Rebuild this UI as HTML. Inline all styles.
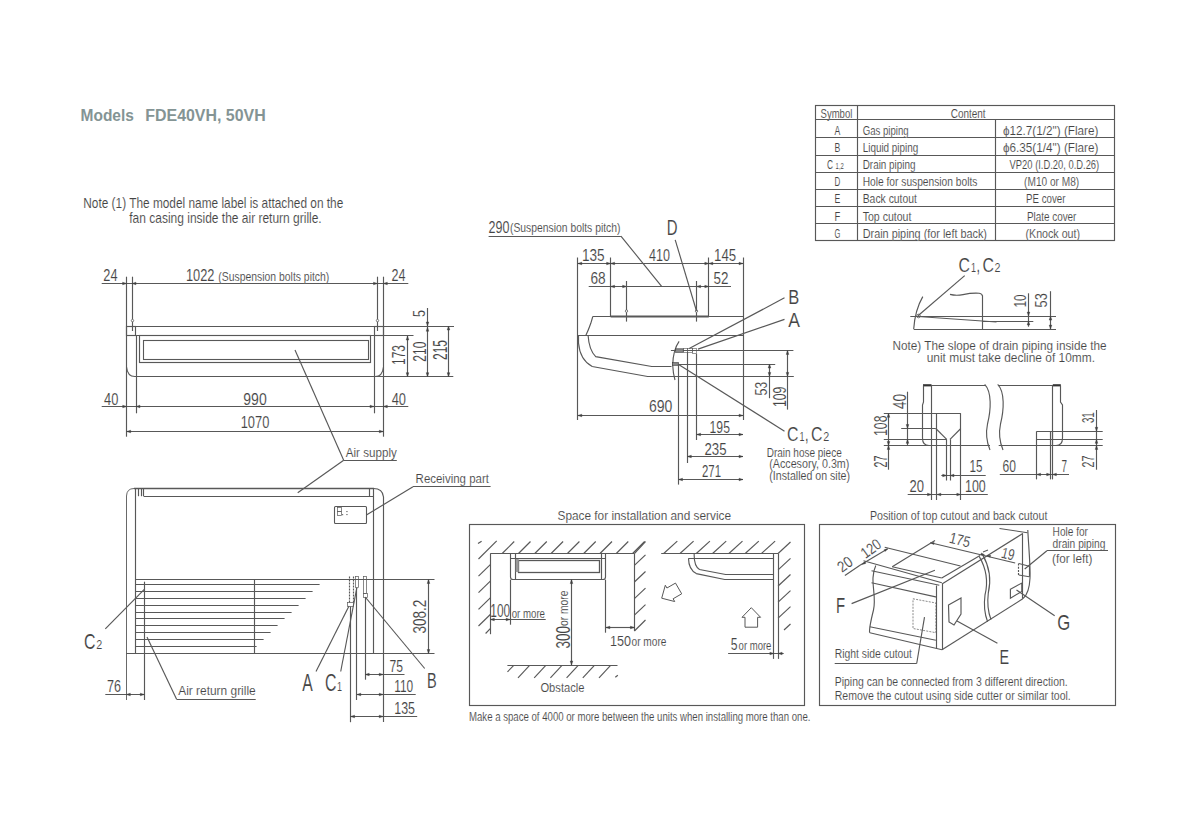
<!DOCTYPE html>
<html><head><meta charset="utf-8"><style>
html,body{margin:0;padding:0;background:#fff;}
svg{display:block;}
text{font-family:"Liberation Sans",sans-serif;}
</style></head><body>
<svg width="1200" height="826" viewBox="0 0 1200 826" stroke-linecap="butt">
<rect width="1200" height="826" fill="#fff"/>
<text x="80.5" y="120.7" font-size="17.4" fill="#849494" font-weight="bold" text-anchor="start" textLength="53.4" lengthAdjust="spacingAndGlyphs" >Models</text>
<text x="145.3" y="120.7" font-size="17.4" fill="#849494" font-weight="bold" text-anchor="start" textLength="120.4" lengthAdjust="spacingAndGlyphs" >FDE40VH, 50VH</text>
<text x="83.3" y="208.3" font-size="13.77" fill="#444444" stroke="#fff" stroke-width="0.12" font-weight="normal" text-anchor="start" textLength="260" lengthAdjust="spacingAndGlyphs" >Note (1) The model name label is attached on the</text>
<text x="129.3" y="222.7" font-size="13.77" fill="#444444" stroke="#fff" stroke-width="0.12" font-weight="normal" text-anchor="start" textLength="192.4" lengthAdjust="spacingAndGlyphs" >fan casing inside the air return grille.</text>
<line x1="101.7" y1="283.5" x2="408.3" y2="283.5" stroke="#585858" stroke-width="1.15"/>
<text x="103.3" y="280.8" font-size="15.65" fill="#444444" stroke="#fff" stroke-width="0.12" font-weight="normal" text-anchor="start" textLength="14.2" lengthAdjust="spacingAndGlyphs" >24</text>
<text x="186" y="280.8" font-size="15.65" fill="#444444" stroke="#fff" stroke-width="0.12" font-weight="normal" text-anchor="start" textLength="28.5" lengthAdjust="spacingAndGlyphs" >1022</text>
<text x="218.3" y="280.8" font-size="12.03" fill="#444444" stroke="#fff" stroke-width="0.12" font-weight="normal" text-anchor="start" textLength="111" lengthAdjust="spacingAndGlyphs" >(Suspension bolts pitch)</text>
<text x="391.5" y="280.8" font-size="15.65" fill="#444444" stroke="#fff" stroke-width="0.12" font-weight="normal" text-anchor="start" textLength="14" lengthAdjust="spacingAndGlyphs" >24</text>
<line x1="126.5" y1="276.7" x2="126.5" y2="436.7" stroke="#585858" stroke-width="1.15"/>
<line x1="383.5" y1="276.7" x2="383.5" y2="436.7" stroke="#585858" stroke-width="1.15"/>
<line x1="132.5" y1="276.7" x2="132.5" y2="319.3" stroke="#585858" stroke-width="1.15"/>
<circle cx="132.5" cy="320.6" r="1.2" fill="none" stroke="#585858" stroke-width="0.8"/>
<line x1="132.5" y1="321.8" x2="132.5" y2="331" stroke="#585858" stroke-width="1.15"/>
<line x1="377.5" y1="276.7" x2="377.5" y2="319.3" stroke="#585858" stroke-width="1.15"/>
<circle cx="377.5" cy="320.6" r="1.2" fill="none" stroke="#585858" stroke-width="0.8"/>
<line x1="377.5" y1="321.8" x2="377.5" y2="331" stroke="#585858" stroke-width="1.15"/>
<polygon points="126.6,283.5 122.6,284.8 122.6,282.2" fill="#404040" stroke="#404040" stroke-width="0.4"/>
<polygon points="132,283.5 136,282.2 136,284.8" fill="#404040" stroke="#404040" stroke-width="0.4"/>
<polygon points="377.5,283.5 373.5,284.8 373.5,282.2" fill="#404040" stroke="#404040" stroke-width="0.4"/>
<polygon points="383.3,283.5 387.3,282.2 387.3,284.8" fill="#404040" stroke="#404040" stroke-width="0.4"/>
<line x1="126.7" y1="326.5" x2="454" y2="326.5" stroke="#585858" stroke-width="1.15"/>
<line x1="126.7" y1="335.5" x2="413.5" y2="335.5" stroke="#585858" stroke-width="1.15"/>
<rect x="126.5" y="326.5" width="9" height="9" rx="0" fill="none" stroke="#585858" stroke-width="1.15"/>
<rect x="374.5" y="326.5" width="9" height="9" rx="0" fill="none" stroke="#585858" stroke-width="1.15"/>
<path d="M126.5,367 Q127.5,376.5 134.8,376.5 L453.3,376.5" fill="none" stroke="#585858" stroke-width="1.15" />
<path d="M383.5,367 Q382.5,376.5 375.2,376.5" fill="none" stroke="#585858" stroke-width="1.15" />
<line x1="136.5" y1="335" x2="136.5" y2="413.3" stroke="#585858" stroke-width="1.15"/>
<line x1="374.5" y1="335" x2="374.5" y2="413.3" stroke="#585858" stroke-width="1.15"/>
<rect x="139.5" y="335.5" width="231" height="27" rx="0" fill="none" stroke="#585858" stroke-width="1.15"/>
<rect x="143.5" y="340.5" width="225" height="19" rx="0" fill="none" stroke="#585858" stroke-width="1.1"/>
<line x1="427.5" y1="308" x2="427.5" y2="376.7" stroke="#585858" stroke-width="1.15"/>
<polygon points="427.5,326 426.2,322 428.8,322" fill="#404040" stroke="#404040" stroke-width="0.4"/>
<polygon points="427.5,327.2 428.8,331.2 426.2,331.2" fill="#404040" stroke="#404040" stroke-width="0.4"/>
<line x1="448.5" y1="326" x2="448.5" y2="376.7" stroke="#585858" stroke-width="1.15"/>
<polygon points="448.5,326 449.8,330 447.2,330" fill="#404040" stroke="#404040" stroke-width="0.4"/>
<polygon points="448.5,376.7 447.2,372.7 449.8,372.7" fill="#404040" stroke="#404040" stroke-width="0.4"/>
<line x1="407.5" y1="335.5" x2="407.5" y2="376.7" stroke="#585858" stroke-width="1.15"/>
<polygon points="407.5,336 408.8,340 406.2,340" fill="#404040" stroke="#404040" stroke-width="0.4"/>
<polygon points="407.5,376.7 406.2,372.7 408.8,372.7" fill="#404040" stroke="#404040" stroke-width="0.4"/>
<polygon points="427.5,376.7 426.2,372.7 428.8,372.7" fill="#404040" stroke="#404040" stroke-width="0.4"/>
<text x="0" y="0" transform="translate(425,317) rotate(-90)" font-size="16.96" fill="#444444" stroke="#fff" stroke-width="0.12" font-weight="normal" text-anchor="start" textLength="7" lengthAdjust="spacingAndGlyphs" >5</text>
<text x="0" y="0" transform="translate(405,365) rotate(-90)" font-size="19.28" fill="#444444" stroke="#fff" stroke-width="0.12" font-weight="normal" text-anchor="start" textLength="20" lengthAdjust="spacingAndGlyphs" >173</text>
<text x="0" y="0" transform="translate(425.8,361.7) rotate(-90)" font-size="18.55" fill="#444444" stroke="#fff" stroke-width="0.12" font-weight="normal" text-anchor="start" textLength="20" lengthAdjust="spacingAndGlyphs" >210</text>
<text x="0" y="0" transform="translate(446.7,360) rotate(-90)" font-size="19.42" fill="#444444" stroke="#fff" stroke-width="0.12" font-weight="normal" text-anchor="start" textLength="20" lengthAdjust="spacingAndGlyphs" >215</text>
<line x1="101.7" y1="406.5" x2="408.3" y2="406.5" stroke="#585858" stroke-width="1.15"/>
<polygon points="126.7,406.5 122.7,407.8 122.7,405.2" fill="#404040" stroke="#404040" stroke-width="0.4"/>
<polygon points="136,406.5 140,405.2 140,407.8" fill="#404040" stroke="#404040" stroke-width="0.4"/>
<polygon points="374,406.5 370,407.8 370,405.2" fill="#404040" stroke="#404040" stroke-width="0.4"/>
<polygon points="383.3,406.5 387.3,405.2 387.3,407.8" fill="#404040" stroke="#404040" stroke-width="0.4"/>
<text x="104" y="405" font-size="15.94" fill="#444444" stroke="#fff" stroke-width="0.12" font-weight="normal" text-anchor="start" textLength="14.3" lengthAdjust="spacingAndGlyphs" >40</text>
<text x="243.3" y="405" font-size="15.94" fill="#444444" stroke="#fff" stroke-width="0.12" font-weight="normal" text-anchor="start" textLength="23.4" lengthAdjust="spacingAndGlyphs" >990</text>
<text x="391.7" y="405" font-size="15.94" fill="#444444" stroke="#fff" stroke-width="0.12" font-weight="normal" text-anchor="start" textLength="14.3" lengthAdjust="spacingAndGlyphs" >40</text>
<line x1="126.7" y1="431.5" x2="383.3" y2="431.5" stroke="#585858" stroke-width="1.15"/>
<polygon points="126.7,431.5 130.7,430.2 130.7,432.8" fill="#404040" stroke="#404040" stroke-width="0.4"/>
<polygon points="383.3,431.5 379.3,432.8 379.3,430.2" fill="#404040" stroke="#404040" stroke-width="0.4"/>
<text x="240.7" y="428.3" font-size="15.94" fill="#444444" stroke="#fff" stroke-width="0.12" font-weight="normal" text-anchor="start" textLength="28.6" lengthAdjust="spacingAndGlyphs" >1070</text>
<line x1="295" y1="350" x2="343.7" y2="460.3" stroke="#585858" stroke-width="1.15"/>
<line x1="343.7" y1="460.5" x2="396.8" y2="460.5" stroke="#585858" stroke-width="1.15"/>
<line x1="343.7" y1="460.3" x2="297.7" y2="492.8" stroke="#585858" stroke-width="1.15"/>
<text x="345.8" y="457" font-size="12.32" fill="#444444" stroke="#fff" stroke-width="0.12" font-weight="normal" text-anchor="start" textLength="51" lengthAdjust="spacingAndGlyphs" >Air supply</text>
<path d="M126.5,700 L126.5,496 Q126.8,488.5 134,488.5 L374,488.5" fill="none" stroke="#585858" stroke-width="0.9" />
<line x1="134" y1="488.5" x2="374" y2="488.5" stroke="#585858" stroke-width="1.6"/>
<line x1="135.5" y1="488.3" x2="135.5" y2="653.5" stroke="#585858" stroke-width="1.15"/>
<line x1="143.7" y1="496.5" x2="373" y2="496.5" stroke="#585858" stroke-width="1.2"/>
<line x1="138.5" y1="488.3" x2="138.5" y2="496.2" stroke="#585858" stroke-width="1.15"/>
<line x1="141.5" y1="488.3" x2="141.5" y2="496.2" stroke="#585858" stroke-width="1.15"/>
<line x1="143.5" y1="488.3" x2="143.5" y2="496.2" stroke="#585858" stroke-width="1.15"/>
<line x1="369.5" y1="488.3" x2="369.5" y2="496.2" stroke="#585858" stroke-width="1.15"/>
<path d="M373.5,488.5 Q382.7,488.5 383.5,497 L383.5,722" fill="none" stroke="#585858" stroke-width="1.15" />
<line x1="373.5" y1="488.3" x2="373.5" y2="653.5" stroke="#585858" stroke-width="1.15"/>
<rect x="334.5" y="506.5" width="32" height="17" rx="1" fill="none" stroke="#585858" stroke-width="1.1"/>
<rect x="337.5" y="507.5" width="4" height="4" rx="0" fill="none" stroke="#585858" stroke-width="0.7"/>
<rect x="337.5" y="511.5" width="4" height="4" rx="0" fill="none" stroke="#585858" stroke-width="0.7"/>
<rect x="342" y="514.2" width="1.2" height="1" fill="#555"/><rect x="346.4" y="511" width="1.1" height="1.1" fill="#555"/><rect x="346.4" y="514" width="1.1" height="1.1" fill="#555"/>
<line x1="413" y1="486.5" x2="490.6" y2="486.5" stroke="#585858" stroke-width="1.15"/>
<line x1="413" y1="486.8" x2="366.4" y2="515" stroke="#585858" stroke-width="1.15"/>
<text x="415.6" y="483" font-size="12.32" fill="#444444" stroke="#fff" stroke-width="0.12" font-weight="normal" text-anchor="start" textLength="73.3" lengthAdjust="spacingAndGlyphs" >Receiving part</text>
<line x1="136" y1="579.5" x2="434.5" y2="579.5" stroke="#585858" stroke-width="1.15"/>
<line x1="126.3" y1="653.5" x2="434.5" y2="653.5" stroke="#585858" stroke-width="1.15"/>
<line x1="136" y1="584.5" x2="319.6" y2="584.5" stroke="#585858" stroke-width="1.15"/>
<line x1="136" y1="591.5" x2="312.6" y2="591.5" stroke="#585858" stroke-width="1.15"/>
<line x1="136" y1="598.5" x2="305.6" y2="598.5" stroke="#585858" stroke-width="1.15"/>
<line x1="136" y1="605.5" x2="298.6" y2="605.5" stroke="#585858" stroke-width="1.15"/>
<line x1="136" y1="612.5" x2="291.6" y2="612.5" stroke="#585858" stroke-width="1.15"/>
<line x1="136" y1="618.5" x2="284.6" y2="618.5" stroke="#585858" stroke-width="1.15"/>
<line x1="136" y1="625.5" x2="277.6" y2="625.5" stroke="#585858" stroke-width="1.15"/>
<line x1="136" y1="632.5" x2="270.6" y2="632.5" stroke="#585858" stroke-width="1.15"/>
<line x1="136" y1="639.5" x2="263.6" y2="639.5" stroke="#585858" stroke-width="1.15"/>
<line x1="136" y1="646.5" x2="256.6" y2="646.5" stroke="#585858" stroke-width="1.15"/>
<line x1="254.5" y1="579.5" x2="254.5" y2="653.5" stroke="#585858" stroke-width="1.15"/>
<line x1="144.5" y1="581.7" x2="144.5" y2="700" stroke="#585858" stroke-width="1.15"/>
<line x1="105.3" y1="628.9" x2="144.3" y2="589.3" stroke="#585858" stroke-width="1.15"/>
<text x="84" y="648.8" font-size="22" fill="#444444" stroke="#fff" stroke-width="0.12" font-weight="normal" text-anchor="start" textLength="11.5" lengthAdjust="spacingAndGlyphs" >C</text>
<text x="96.2" y="648.8" font-size="12.5" fill="#444444" stroke="#fff" stroke-width="0.12" font-weight="normal" text-anchor="start" textLength="6" lengthAdjust="spacingAndGlyphs" >2</text>
<line x1="147" y1="637" x2="176.6" y2="699.2" stroke="#585858" stroke-width="1.15"/>
<line x1="176.6" y1="699.5" x2="255.7" y2="699.5" stroke="#585858" stroke-width="1.15"/>
<text x="178.2" y="695.4" font-size="12.9" fill="#444444" stroke="#fff" stroke-width="0.12" font-weight="normal" text-anchor="start" textLength="77.5" lengthAdjust="spacingAndGlyphs" >Air return grille</text>
<line x1="105.3" y1="694.5" x2="144.3" y2="694.5" stroke="#585858" stroke-width="1.15"/>
<polygon points="126.3,694.5 130.3,693.2 130.3,695.8" fill="#404040" stroke="#404040" stroke-width="0.4"/>
<polygon points="144.3,694.5 140.3,695.8 140.3,693.2" fill="#404040" stroke="#404040" stroke-width="0.4"/>
<text x="107" y="692.2" font-size="16.23" fill="#444444" stroke="#fff" stroke-width="0.12" font-weight="normal" text-anchor="start" textLength="14" lengthAdjust="spacingAndGlyphs" >76</text>
<line x1="349.5" y1="576.5" x2="349.5" y2="602.7" stroke="#585858" stroke-width="1.15" stroke-dasharray="2,1"/>
<line x1="353.5" y1="576.5" x2="353.5" y2="602.7" stroke="#585858" stroke-width="1.15" stroke-dasharray="2,1"/>
<rect x="347.5" y="602.5" width="6" height="4" rx="0" fill="none" stroke="#585858" stroke-width="0.7"/>
<rect x="355.5" y="576.5" width="3" height="11" rx="0" fill="none" stroke="#585858" stroke-width="0.7"/>
<rect x="363.5" y="576.5" width="3" height="17" rx="0" fill="none" stroke="#585858" stroke-width="0.7"/>
<rect x="363.5" y="593.5" width="4" height="4" rx="0" fill="none" stroke="#585858" stroke-width="0.7"/>
<line x1="350.5" y1="606.5" x2="350.5" y2="722.2" stroke="#585858" stroke-width="1.15"/>
<line x1="356.5" y1="587.7" x2="356.5" y2="700" stroke="#585858" stroke-width="1.15"/>
<line x1="365.5" y1="597.3" x2="365.5" y2="679.7" stroke="#585858" stroke-width="1.15"/>
<line x1="428.5" y1="579.5" x2="428.5" y2="653.5" stroke="#585858" stroke-width="1.15"/>
<polygon points="428.5,579.5 429.8,583.5 427.2,583.5" fill="#404040" stroke="#404040" stroke-width="0.4"/>
<polygon points="428.5,653.5 427.2,649.5 429.8,649.5" fill="#404040" stroke="#404040" stroke-width="0.4"/>
<text x="0" y="0" transform="translate(426.2,633.5) rotate(-90)" font-size="18.41" fill="#444444" stroke="#fff" stroke-width="0.12" font-weight="normal" text-anchor="start" textLength="33.8" lengthAdjust="spacingAndGlyphs" >308.2</text>
<line x1="316" y1="671.5" x2="349" y2="606" stroke="#585858" stroke-width="1.15"/>
<line x1="340.7" y1="671.5" x2="356.8" y2="588" stroke="#585858" stroke-width="1.15"/>
<line x1="424.7" y1="668.5" x2="365.2" y2="597" stroke="#585858" stroke-width="1.15"/>
<text x="302.2" y="691.3" font-size="23.33" fill="#444444" stroke="#fff" stroke-width="0.12" font-weight="normal" text-anchor="start" textLength="10.5" lengthAdjust="spacingAndGlyphs" >A</text>
<text x="325" y="691.3" font-size="23" fill="#444444" stroke="#fff" stroke-width="0.12" font-weight="normal" text-anchor="start" textLength="11.5" lengthAdjust="spacingAndGlyphs" >C</text>
<text x="337" y="691.3" font-size="12.5" fill="#444444" stroke="#fff" stroke-width="0.12" font-weight="normal" text-anchor="start" textLength="5" lengthAdjust="spacingAndGlyphs" >1</text>
<text x="427" y="687.7" font-size="21.74" fill="#444444" stroke="#fff" stroke-width="0.12" font-weight="normal" text-anchor="start" textLength="9.7" lengthAdjust="spacingAndGlyphs" >B</text>
<line x1="365.2" y1="674.5" x2="404.5" y2="674.5" stroke="#585858" stroke-width="1.15"/>
<polygon points="365.2,674.5 369.2,673.2 369.2,675.8" fill="#404040" stroke="#404040" stroke-width="0.4"/>
<polygon points="383.2,674.5 379.2,675.8 379.2,673.2" fill="#404040" stroke="#404040" stroke-width="0.4"/>
<text x="389.5" y="671.5" font-size="16.67" fill="#444444" stroke="#fff" stroke-width="0.12" font-weight="normal" text-anchor="start" textLength="13.5" lengthAdjust="spacingAndGlyphs" >75</text>
<line x1="356.8" y1="694.5" x2="415.7" y2="694.5" stroke="#585858" stroke-width="1.15"/>
<polygon points="356.8,694.5 360.8,693.2 360.8,695.8" fill="#404040" stroke="#404040" stroke-width="0.4"/>
<polygon points="383.2,694.5 379.2,695.8 379.2,693.2" fill="#404040" stroke="#404040" stroke-width="0.4"/>
<text x="394.3" y="691.7" font-size="16.23" fill="#444444" stroke="#fff" stroke-width="0.12" font-weight="normal" text-anchor="start" textLength="18.9" lengthAdjust="spacingAndGlyphs" >110</text>
<line x1="350.6" y1="716.5" x2="417.2" y2="716.5" stroke="#585858" stroke-width="1.15"/>
<polygon points="350.6,716.5 354.6,715.2 354.6,717.8" fill="#404040" stroke="#404040" stroke-width="0.4"/>
<polygon points="383.2,716.5 379.2,717.8 379.2,715.2" fill="#404040" stroke="#404040" stroke-width="0.4"/>
<text x="394.3" y="713.5" font-size="17.39" fill="#444444" stroke="#fff" stroke-width="0.12" font-weight="normal" text-anchor="start" textLength="20.7" lengthAdjust="spacingAndGlyphs" >135</text>
<line x1="488.6" y1="236.5" x2="620.9" y2="236.5" stroke="#585858" stroke-width="1.15"/>
<line x1="620.9" y1="236.1" x2="661.6" y2="286.3" stroke="#585858" stroke-width="1.15"/>
<text x="488.6" y="232.7" font-size="17.39" fill="#444444" stroke="#fff" stroke-width="0.12" font-weight="normal" text-anchor="start" textLength="20.9" lengthAdjust="spacingAndGlyphs" >290</text>
<text x="510" y="231.6" font-size="12.17" fill="#444444" stroke="#fff" stroke-width="0.12" font-weight="normal" text-anchor="start" textLength="110.5" lengthAdjust="spacingAndGlyphs" >(Suspension bolts pitch)</text>
<text x="666.7" y="235.4" font-size="22.32" fill="#444444" stroke="#fff" stroke-width="0.12" font-weight="normal" text-anchor="start" textLength="10.8" lengthAdjust="spacingAndGlyphs" >D</text>
<line x1="675.2" y1="239.8" x2="696.5" y2="311" stroke="#585858" stroke-width="1.15"/>
<line x1="577.8" y1="263.5" x2="743" y2="263.5" stroke="#585858" stroke-width="1.15"/>
<line x1="577.5" y1="257.5" x2="577.5" y2="420" stroke="#585858" stroke-width="1.15"/>
<line x1="743.5" y1="257.5" x2="743.5" y2="420" stroke="#585858" stroke-width="1.15"/>
<line x1="610.5" y1="257.5" x2="610.5" y2="316.1" stroke="#585858" stroke-width="1.15"/>
<line x1="708.5" y1="257.5" x2="708.5" y2="316.1" stroke="#585858" stroke-width="1.15"/>
<polygon points="577.8,263.5 581.8,262.2 581.8,264.8" fill="#404040" stroke="#404040" stroke-width="0.4"/>
<polygon points="610.6,263.5 606.6,264.8 606.6,262.2" fill="#404040" stroke="#404040" stroke-width="0.4"/>
<polygon points="610.6,263.5 614.6,262.2 614.6,264.8" fill="#404040" stroke="#404040" stroke-width="0.4"/>
<polygon points="708.8,263.5 704.8,264.8 704.8,262.2" fill="#404040" stroke="#404040" stroke-width="0.4"/>
<polygon points="708.8,263.5 712.8,262.2 712.8,264.8" fill="#404040" stroke="#404040" stroke-width="0.4"/>
<polygon points="743,263.5 739,264.8 739,262.2" fill="#404040" stroke="#404040" stroke-width="0.4"/>
<text x="581.9" y="261" font-size="15.94" fill="#444444" stroke="#fff" stroke-width="0.12" font-weight="normal" text-anchor="start" textLength="22.7" lengthAdjust="spacingAndGlyphs" >135</text>
<text x="649" y="261" font-size="15.94" fill="#444444" stroke="#fff" stroke-width="0.12" font-weight="normal" text-anchor="start" textLength="21" lengthAdjust="spacingAndGlyphs" >410</text>
<text x="714.1" y="261" font-size="15.94" fill="#444444" stroke="#fff" stroke-width="0.12" font-weight="normal" text-anchor="start" textLength="22.1" lengthAdjust="spacingAndGlyphs" >145</text>
<line x1="588.7" y1="286.5" x2="731" y2="286.5" stroke="#585858" stroke-width="1.15"/>
<polygon points="610.6,286.5 614.6,285.2 614.6,287.8" fill="#404040" stroke="#404040" stroke-width="0.4"/>
<polygon points="626.6,286.5 622.6,287.8 622.6,285.2" fill="#404040" stroke="#404040" stroke-width="0.4"/>
<polygon points="696.6,286.5 700.6,285.2 700.6,287.8" fill="#404040" stroke="#404040" stroke-width="0.4"/>
<polygon points="708.8,286.5 704.8,287.8 704.8,285.2" fill="#404040" stroke="#404040" stroke-width="0.4"/>
<text x="590.4" y="284" font-size="15.94" fill="#444444" stroke="#fff" stroke-width="0.12" font-weight="normal" text-anchor="start" textLength="15.2" lengthAdjust="spacingAndGlyphs" >68</text>
<text x="713.5" y="284" font-size="15.94" fill="#444444" stroke="#fff" stroke-width="0.12" font-weight="normal" text-anchor="start" textLength="14.9" lengthAdjust="spacingAndGlyphs" >52</text>
<line x1="626.5" y1="281" x2="626.5" y2="310" stroke="#585858" stroke-width="1.15"/>
<circle cx="626.5" cy="311.1" r="1.2" fill="none" stroke="#585858" stroke-width="0.8"/>
<line x1="626.5" y1="312.3" x2="626.5" y2="321.6" stroke="#585858" stroke-width="1.15"/>
<line x1="696.5" y1="281" x2="696.5" y2="310" stroke="#585858" stroke-width="1.15"/>
<circle cx="696.5" cy="311.1" r="1.2" fill="none" stroke="#585858" stroke-width="0.8"/>
<line x1="696.5" y1="312.3" x2="696.5" y2="321.6" stroke="#585858" stroke-width="1.15"/>
<line x1="610.6" y1="316.5" x2="708.8" y2="316.5" stroke="#585858" stroke-width="1.8"/>
<line x1="592.8" y1="316.5" x2="743" y2="316.5" stroke="#585858" stroke-width="1.15"/>
<path d="M592.8,316.5 L590.8,323.3 Q588.5,330 585.8,335.5" fill="none" stroke="#585858" stroke-width="1.15" />
<line x1="577.9" y1="335.5" x2="743" y2="335.5" stroke="#585858" stroke-width="1.15"/>
<path d="M578.5,335.5 L578.5,343 Q580,360 592.2,366.5 L647.6,376.5 L793.8,376.5" fill="none" stroke="#585858" stroke-width="1.15" />
<path d="M588.1,335.5 Q589,350 595.7,356.6 L651.7,366.5 L671.5,366.5" fill="none" stroke="#585858" stroke-width="1.15" />
<path d="M679.1,341.4 Q673,350 672.7,365.3 Q673,373 675,380" fill="none" stroke="#585858" stroke-width="1.15" />
<line x1="670.9" y1="350.5" x2="793.4" y2="350.5" stroke="#585858" stroke-width="1.15"/>
<rect x="675.6" y="348.8" width="7.6" height="3.5" fill="#888" stroke="#3a3a3a" stroke-width="0.6"/>
<rect x="683.5" y="348.5" width="4" height="4" rx="0" fill="none" stroke="#585858" stroke-width="0.6"/>
<rect x="687.5" y="348.5" width="5" height="4" rx="0" fill="none" stroke="#585858" stroke-width="0.6"/>
<rect x="692.5" y="348.5" width="4" height="5" rx="0" fill="none" stroke="#585858" stroke-width="0.6"/>
<rect x="672.4" y="362.6" width="6.1" height="2.7" fill="#888" stroke="#3a3a3a" stroke-width="0.6"/>
<line x1="678.5" y1="364.5" x2="775.2" y2="364.5" stroke="#585858" stroke-width="1.15"/>
<line x1="678.5" y1="365" x2="678.5" y2="484.6" stroke="#585858" stroke-width="1.15"/>
<line x1="687.5" y1="352" x2="687.5" y2="463" stroke="#585858" stroke-width="1.15"/>
<line x1="696.5" y1="353.5" x2="696.5" y2="440" stroke="#585858" stroke-width="1.15"/>
<line x1="784.5" y1="297.8" x2="689.2" y2="348.6" stroke="#585858" stroke-width="1.15"/>
<line x1="784.5" y1="319.4" x2="698" y2="349.1" stroke="#585858" stroke-width="1.15"/>
<line x1="677.8" y1="363.9" x2="784.5" y2="431.2" stroke="#585858" stroke-width="1.15"/>
<text x="788.3" y="304.1" font-size="20.87" fill="#444444" stroke="#fff" stroke-width="0.12" font-weight="normal" text-anchor="start" textLength="11" lengthAdjust="spacingAndGlyphs" >B</text>
<text x="788.3" y="327" font-size="20.29" fill="#444444" stroke="#fff" stroke-width="0.12" font-weight="normal" text-anchor="start" textLength="11.7" lengthAdjust="spacingAndGlyphs" >A</text>
<text x="787" y="441.4" font-size="21" fill="#444444" stroke="#fff" stroke-width="0.12" font-weight="normal" text-anchor="start" textLength="11.5" lengthAdjust="spacingAndGlyphs" >C</text>
<text x="799.5" y="441.4" font-size="12" fill="#444444" stroke="#fff" stroke-width="0.12" font-weight="normal" text-anchor="start" textLength="5" lengthAdjust="spacingAndGlyphs" >1</text>
<text x="805" y="441.4" font-size="21" fill="#444444" stroke="#fff" stroke-width="0.12" font-weight="normal" text-anchor="start" textLength="3.5" lengthAdjust="spacingAndGlyphs" >,</text>
<text x="811" y="441.4" font-size="21" fill="#444444" stroke="#fff" stroke-width="0.12" font-weight="normal" text-anchor="start" textLength="11.5" lengthAdjust="spacingAndGlyphs" >C</text>
<text x="823.3" y="441.4" font-size="12" fill="#444444" stroke="#fff" stroke-width="0.12" font-weight="normal" text-anchor="start" textLength="6" lengthAdjust="spacingAndGlyphs" >2</text>
<text x="766.7" y="456.5" font-size="13.04" fill="#444444" stroke="#fff" stroke-width="0.12" font-weight="normal" text-anchor="start" textLength="75" lengthAdjust="spacingAndGlyphs" >Drain hose piece</text>
<text x="769.3" y="468" font-size="13.04" fill="#444444" stroke="#fff" stroke-width="0.12" font-weight="normal" text-anchor="start" textLength="80" lengthAdjust="spacingAndGlyphs" >(Accesory, 0.3m)</text>
<text x="769.3" y="479.5" font-size="13.04" fill="#444444" stroke="#fff" stroke-width="0.12" font-weight="normal" text-anchor="start" textLength="80.7" lengthAdjust="spacingAndGlyphs" >(Installed on site)</text>
<line x1="769.5" y1="364" x2="769.5" y2="398.2" stroke="#585858" stroke-width="1.15"/>
<polygon points="769.5,364 770.8,368 768.2,368" fill="#404040" stroke="#404040" stroke-width="0.4"/>
<polygon points="769.5,376.4 768.2,372.4 770.8,372.4" fill="#404040" stroke="#404040" stroke-width="0.4"/>
<line x1="787.5" y1="350.4" x2="787.5" y2="409.6" stroke="#585858" stroke-width="1.15"/>
<polygon points="787.5,350.4 788.8,354.4 786.2,354.4" fill="#404040" stroke="#404040" stroke-width="0.4"/>
<polygon points="787.5,376.4 786.2,372.4 788.8,372.4" fill="#404040" stroke="#404040" stroke-width="0.4"/>
<text x="0" y="0" transform="translate(766.7,395.6) rotate(-90)" font-size="16.52" fill="#444444" stroke="#fff" stroke-width="0.12" font-weight="normal" text-anchor="start" textLength="13.9" lengthAdjust="spacingAndGlyphs" >53</text>
<text x="0" y="0" transform="translate(785.8,407) rotate(-90)" font-size="18.55" fill="#444444" stroke="#fff" stroke-width="0.12" font-weight="normal" text-anchor="start" textLength="20.3" lengthAdjust="spacingAndGlyphs" >109</text>
<line x1="577.8" y1="415.5" x2="743" y2="415.5" stroke="#585858" stroke-width="1.15"/>
<polygon points="577.8,415.5 581.8,414.2 581.8,416.8" fill="#404040" stroke="#404040" stroke-width="0.4"/>
<polygon points="743,415.5 739,416.8 739,414.2" fill="#404040" stroke="#404040" stroke-width="0.4"/>
<text x="649" y="411.8" font-size="16.38" fill="#444444" stroke="#fff" stroke-width="0.12" font-weight="normal" text-anchor="start" textLength="23.4" lengthAdjust="spacingAndGlyphs" >690</text>
<line x1="696.6" y1="434.5" x2="743" y2="434.5" stroke="#585858" stroke-width="1.15"/>
<polygon points="696.6,434.5 700.6,433.2 700.6,435.8" fill="#404040" stroke="#404040" stroke-width="0.4"/>
<polygon points="743,434.5 739,435.8 739,433.2" fill="#404040" stroke="#404040" stroke-width="0.4"/>
<text x="709.6" y="432.5" font-size="16.67" fill="#444444" stroke="#fff" stroke-width="0.12" font-weight="normal" text-anchor="start" textLength="20.3" lengthAdjust="spacingAndGlyphs" >195</text>
<line x1="687.3" y1="456.5" x2="743" y2="456.5" stroke="#585858" stroke-width="1.15"/>
<polygon points="687.3,456.5 691.3,455.2 691.3,457.8" fill="#404040" stroke="#404040" stroke-width="0.4"/>
<polygon points="743,456.5 739,457.8 739,455.2" fill="#404040" stroke="#404040" stroke-width="0.4"/>
<text x="704.5" y="455" font-size="16.67" fill="#444444" stroke="#fff" stroke-width="0.12" font-weight="normal" text-anchor="start" textLength="22.1" lengthAdjust="spacingAndGlyphs" >235</text>
<line x1="678.5" y1="479.5" x2="743" y2="479.5" stroke="#585858" stroke-width="1.15"/>
<polygon points="678.5,479.5 682.5,478.2 682.5,480.8" fill="#404040" stroke="#404040" stroke-width="0.4"/>
<polygon points="743,479.5 739,480.8 739,478.2" fill="#404040" stroke="#404040" stroke-width="0.4"/>
<text x="702" y="477" font-size="16.67" fill="#444444" stroke="#fff" stroke-width="0.12" font-weight="normal" text-anchor="start" textLength="19" lengthAdjust="spacingAndGlyphs" >271</text>
<rect x="815.5" y="105.5" width="299" height="135" rx="0" fill="none" stroke="#585858" stroke-width="1.15"/>
<line x1="815.1" y1="119.5" x2="1114.9" y2="119.5" stroke="#585858" stroke-width="1.15"/>
<line x1="815.1" y1="137.5" x2="1114.9" y2="137.5" stroke="#585858" stroke-width="1.15"/>
<line x1="815.1" y1="155.5" x2="1114.9" y2="155.5" stroke="#585858" stroke-width="1.15"/>
<line x1="815.1" y1="172.5" x2="1114.9" y2="172.5" stroke="#585858" stroke-width="1.15"/>
<line x1="815.1" y1="189.5" x2="1114.9" y2="189.5" stroke="#585858" stroke-width="1.15"/>
<line x1="815.1" y1="206.5" x2="1114.9" y2="206.5" stroke="#585858" stroke-width="1.15"/>
<line x1="815.1" y1="223.5" x2="1114.9" y2="223.5" stroke="#585858" stroke-width="1.15"/>
<line x1="857.5" y1="105.5" x2="857.5" y2="240.8" stroke="#585858" stroke-width="1.15"/>
<line x1="995.5" y1="119.75" x2="995.5" y2="240.8" stroke="#585858" stroke-width="1.15"/>
<text x="820.6" y="118" font-size="12.8" fill="#444444" stroke="#fff" stroke-width="0.12" font-weight="normal" text-anchor="start" textLength="31.7" lengthAdjust="spacingAndGlyphs" >Symbol</text>
<text x="950.7" y="118" font-size="12.8" fill="#444444" stroke="#fff" stroke-width="0.12" font-weight="normal" text-anchor="start" textLength="34.9" lengthAdjust="spacingAndGlyphs" >Content</text>
<text x="834.4" y="134.6" font-size="12.8" fill="#444444" stroke="#fff" stroke-width="0.12" font-weight="normal" text-anchor="start" textLength="5.8" lengthAdjust="spacingAndGlyphs" >A</text>
<text x="862.7" y="134.6" font-size="12.8" fill="#444444" stroke="#fff" stroke-width="0.12" font-weight="normal" text-anchor="start" textLength="45.9" lengthAdjust="spacingAndGlyphs" >Gas piping</text>
<text x="1003" y="134.6" font-size="12.16" fill="#444444" stroke="#fff" stroke-width="0.12" font-weight="normal" text-anchor="start" textLength="95.4" lengthAdjust="spacingAndGlyphs" >ϕ12.7(1/2") (Flare)</text>
<text x="834.4" y="151.8" font-size="12.8" fill="#444444" stroke="#fff" stroke-width="0.12" font-weight="normal" text-anchor="start" textLength="5.8" lengthAdjust="spacingAndGlyphs" >B</text>
<text x="862.7" y="151.8" font-size="12.8" fill="#444444" stroke="#fff" stroke-width="0.12" font-weight="normal" text-anchor="start" textLength="55.6" lengthAdjust="spacingAndGlyphs" >Liquid piping</text>
<text x="1003" y="151.8" font-size="12.16" fill="#444444" stroke="#fff" stroke-width="0.12" font-weight="normal" text-anchor="start" textLength="95.4" lengthAdjust="spacingAndGlyphs" >ϕ6.35(1/4") (Flare)</text>
<text x="826.9" y="169" font-size="12.8" fill="#444444" stroke="#fff" stroke-width="0.12" font-weight="normal" text-anchor="start" textLength="6" lengthAdjust="spacingAndGlyphs" >C</text>
<text x="835.6" y="169" font-size="9" fill="#444444" stroke="#fff" stroke-width="0.12" font-weight="normal" text-anchor="start" textLength="8.2" lengthAdjust="spacingAndGlyphs" >1,2</text>
<text x="862.7" y="169" font-size="12.8" fill="#444444" stroke="#fff" stroke-width="0.12" font-weight="normal" text-anchor="start" textLength="52.8" lengthAdjust="spacingAndGlyphs" >Drain piping</text>
<text x="1009.6" y="169" font-size="12.16" fill="#444444" stroke="#fff" stroke-width="0.12" font-weight="normal" text-anchor="start" textLength="89.6" lengthAdjust="spacingAndGlyphs" >VP20 (I.D.20, 0.D.26)</text>
<text x="834.4" y="186.2" font-size="12.8" fill="#444444" stroke="#fff" stroke-width="0.12" font-weight="normal" text-anchor="start" textLength="5.8" lengthAdjust="spacingAndGlyphs" >D</text>
<text x="862.7" y="186.2" font-size="12.8" fill="#444444" stroke="#fff" stroke-width="0.12" font-weight="normal" text-anchor="start" textLength="114.7" lengthAdjust="spacingAndGlyphs" >Hole for suspension bolts</text>
<text x="1024.1" y="186.2" font-size="12.16" fill="#444444" stroke="#fff" stroke-width="0.12" font-weight="normal" text-anchor="start" textLength="55.1" lengthAdjust="spacingAndGlyphs" >(M10 or M8)</text>
<text x="834.4" y="203.4" font-size="12.8" fill="#444444" stroke="#fff" stroke-width="0.12" font-weight="normal" text-anchor="start" textLength="5.8" lengthAdjust="spacingAndGlyphs" >E</text>
<text x="862.7" y="203.4" font-size="12.8" fill="#444444" stroke="#fff" stroke-width="0.12" font-weight="normal" text-anchor="start" textLength="54.2" lengthAdjust="spacingAndGlyphs" >Back cutout</text>
<text x="1026" y="203.4" font-size="12.16" fill="#444444" stroke="#fff" stroke-width="0.12" font-weight="normal" text-anchor="start" textLength="39.4" lengthAdjust="spacingAndGlyphs" >PE cover</text>
<text x="834.4" y="220.6" font-size="12.8" fill="#444444" stroke="#fff" stroke-width="0.12" font-weight="normal" text-anchor="start" textLength="5.8" lengthAdjust="spacingAndGlyphs" >F</text>
<text x="862.7" y="220.6" font-size="12.8" fill="#444444" stroke="#fff" stroke-width="0.12" font-weight="normal" text-anchor="start" textLength="48.7" lengthAdjust="spacingAndGlyphs" >Top cutout</text>
<text x="1026.9" y="220.6" font-size="12.16" fill="#444444" stroke="#fff" stroke-width="0.12" font-weight="normal" text-anchor="start" textLength="49.5" lengthAdjust="spacingAndGlyphs" >Plate cover</text>
<text x="834.4" y="237.8" font-size="12.8" fill="#444444" stroke="#fff" stroke-width="0.12" font-weight="normal" text-anchor="start" textLength="5.8" lengthAdjust="spacingAndGlyphs" >G</text>
<text x="862.7" y="237.8" font-size="12.8" fill="#444444" stroke="#fff" stroke-width="0.12" font-weight="normal" text-anchor="start" textLength="124.3" lengthAdjust="spacingAndGlyphs" >Drain piping  (for left back)</text>
<text x="1025.5" y="237.8" font-size="12.16" fill="#444444" stroke="#fff" stroke-width="0.12" font-weight="normal" text-anchor="start" textLength="54.5" lengthAdjust="spacingAndGlyphs" >(Knock out)</text>
<text x="958.6" y="271.7" font-size="21" fill="#444444" stroke="#fff" stroke-width="0.12" font-weight="normal" text-anchor="start" textLength="11.5" lengthAdjust="spacingAndGlyphs" >C</text>
<text x="971" y="271.7" font-size="12" fill="#444444" stroke="#fff" stroke-width="0.12" font-weight="normal" text-anchor="start" textLength="5" lengthAdjust="spacingAndGlyphs" >1</text>
<text x="976.5" y="271.7" font-size="21" fill="#444444" stroke="#fff" stroke-width="0.12" font-weight="normal" text-anchor="start" textLength="3.5" lengthAdjust="spacingAndGlyphs" >,</text>
<text x="982.5" y="271.7" font-size="21" fill="#444444" stroke="#fff" stroke-width="0.12" font-weight="normal" text-anchor="start" textLength="11.5" lengthAdjust="spacingAndGlyphs" >C</text>
<text x="994.5" y="271.7" font-size="12" fill="#444444" stroke="#fff" stroke-width="0.12" font-weight="normal" text-anchor="start" textLength="6" lengthAdjust="spacingAndGlyphs" >2</text>
<line x1="964.7" y1="275.6" x2="918" y2="315.7" stroke="#585858" stroke-width="1.15"/>
<circle cx="918.5" cy="316" r="1.8" fill="none" stroke="#585858" stroke-width="0.8"/>
<path d="M922.8,296.6 Q915,310 913.7,329" fill="none" stroke="#585858" stroke-width="1.15" />
<line x1="910.3" y1="316.5" x2="1056" y2="316.5" stroke="#585858" stroke-width="1.15"/>
<line x1="918" y1="316.5" x2="996.5" y2="322" stroke="#585858" stroke-width="1.15"/>
<line x1="982.4" y1="321.5" x2="1033.3" y2="321.5" stroke="#585858" stroke-width="1.15"/>
<line x1="913.7" y1="329.5" x2="1056" y2="329.5" stroke="#585858" stroke-width="1.15"/>
<line x1="982.5" y1="295.5" x2="982.5" y2="329.1" stroke="#585858" stroke-width="1.15"/>
<path d="M950,294.4 Q956,296 963,294.6 Q972,292.8 979.2,293.3 Q982.4,294 982.4,296" fill="none" stroke="#585858" stroke-width="1.15" />
<line x1="1028.5" y1="293.3" x2="1028.5" y2="326.7" stroke="#585858" stroke-width="1.15"/>
<polygon points="1028.5,316.1 1027.2,312.1 1029.8,312.1" fill="#404040" stroke="#404040" stroke-width="0.4"/>
<polygon points="1028.5,321 1029.8,325 1027.2,325" fill="#404040" stroke="#404040" stroke-width="0.4"/>
<line x1="1050.5" y1="291.2" x2="1050.5" y2="329.1" stroke="#585858" stroke-width="1.15"/>
<polygon points="1050.5,316.1 1051.8,320.1 1049.2,320.1" fill="#404040" stroke="#404040" stroke-width="0.4"/>
<polygon points="1050.5,329.1 1049.2,325.1 1051.8,325.1" fill="#404040" stroke="#404040" stroke-width="0.4"/>
<text x="0" y="0" transform="translate(1025.8,307.4) rotate(-90)" font-size="17.39" fill="#444444" stroke="#fff" stroke-width="0.12" font-weight="normal" text-anchor="start" textLength="13" lengthAdjust="spacingAndGlyphs" >10</text>
<text x="0" y="0" transform="translate(1047.4,307.4) rotate(-90)" font-size="15.65" fill="#444444" stroke="#fff" stroke-width="0.12" font-weight="normal" text-anchor="start" textLength="14.1" lengthAdjust="spacingAndGlyphs" >53</text>
<text x="892.5" y="350" font-size="12.17" fill="#444444" stroke="#fff" stroke-width="0.12" font-weight="normal" text-anchor="start" textLength="214.1" lengthAdjust="spacingAndGlyphs" >Note) The slope of drain piping inside the</text>
<text x="926.7" y="361.6" font-size="12.17" fill="#444444" stroke="#fff" stroke-width="0.12" font-weight="normal" text-anchor="start" textLength="168.3" lengthAdjust="spacingAndGlyphs" >unit must take decline of 10mm.</text>
<line x1="923.9" y1="385.5" x2="985.7" y2="385.5" stroke="#585858" stroke-width="1.15"/>
<line x1="998.7" y1="385.5" x2="1060.4" y2="385.5" stroke="#585858" stroke-width="1.15"/>
<rect x="923" y="384.2" width="8.5" height="2.2" fill="#333"/>
<rect x="1052.8" y="384.2" width="8" height="2.2" fill="#333"/>
<path d="M923.5,385.5 L923.5,402 L922.5,405 L922.5,438 Q922.5,445.5 929,445.5" fill="none" stroke="#585858" stroke-width="1.15" />
<line x1="931.5" y1="385.2" x2="931.5" y2="500" stroke="#585858" stroke-width="1.15"/>
<line x1="883.8" y1="445.5" x2="990" y2="445.5" stroke="#585858" stroke-width="1.15"/>
<line x1="998.7" y1="445.5" x2="1102.7" y2="445.5" stroke="#585858" stroke-width="1.15"/>
<path d="M984.7,384.4 C992,392 991,410 987.5,424 C985,436 987.5,444 990,450" fill="none" stroke="#585858" stroke-width="1.15" />
<path d="M997.7,384.4 C1005,392 1004,410 1000.5,424 C998,436 1000.5,444 1003,450" fill="none" stroke="#585858" stroke-width="1.15" />
<line x1="883.8" y1="413.5" x2="960.8" y2="413.5" stroke="#585858" stroke-width="1.15"/>
<line x1="936.5" y1="413.3" x2="936.5" y2="500" stroke="#585858" stroke-width="1.15"/>
<line x1="960.5" y1="413.3" x2="960.5" y2="500" stroke="#585858" stroke-width="1.15"/>
<line x1="935.8" y1="428.5" x2="946.7" y2="439.3" stroke="#585858" stroke-width="1.15"/>
<line x1="960.8" y1="428.5" x2="950" y2="439.3" stroke="#585858" stroke-width="1.15"/>
<line x1="946.5" y1="439.3" x2="946.5" y2="480.5" stroke="#585858" stroke-width="1.15"/>
<line x1="950.5" y1="439.3" x2="950.5" y2="480.5" stroke="#585858" stroke-width="1.15"/>
<line x1="901.2" y1="428.5" x2="935.8" y2="428.5" stroke="#585858" stroke-width="1.15"/>
<line x1="883.8" y1="439.5" x2="946.7" y2="439.5" stroke="#585858" stroke-width="1.15"/>
<line x1="907.5" y1="391.7" x2="907.5" y2="445.4" stroke="#585858" stroke-width="1.15"/>
<polygon points="907.5,428.5 906.2,424.5 908.8,424.5" fill="#404040" stroke="#404040" stroke-width="0.4"/>
<polygon points="907.5,439.3 908.8,443.3 906.2,443.3" fill="#404040" stroke="#404040" stroke-width="0.4"/>
<line x1="888.5" y1="413.3" x2="888.5" y2="469.7" stroke="#585858" stroke-width="1.15"/>
<polygon points="888.5,413.3 889.8,417.3 887.2,417.3" fill="#404040" stroke="#404040" stroke-width="0.4"/>
<polygon points="888.5,445.4 887.2,441.4 889.8,441.4" fill="#404040" stroke="#404040" stroke-width="0.4"/>
<polygon points="888.5,445.4 889.8,449.4 887.2,449.4" fill="#404040" stroke="#404040" stroke-width="0.4"/>
<text x="0" y="0" transform="translate(905.5,409) rotate(-90)" font-size="18.84" fill="#444444" stroke="#fff" stroke-width="0.12" font-weight="normal" text-anchor="start" textLength="15.2" lengthAdjust="spacingAndGlyphs" >40</text>
<text x="0" y="0" transform="translate(887,436) rotate(-90)" font-size="18.84" fill="#444444" stroke="#fff" stroke-width="0.12" font-weight="normal" text-anchor="start" textLength="20.5" lengthAdjust="spacingAndGlyphs" >108</text>
<text x="0" y="0" transform="translate(887,467.5) rotate(-90)" font-size="18.84" fill="#444444" stroke="#fff" stroke-width="0.12" font-weight="normal" text-anchor="start" textLength="11.9" lengthAdjust="spacingAndGlyphs" >27</text>
<line x1="941.3" y1="475.5" x2="985.7" y2="475.5" stroke="#585858" stroke-width="1.15"/>
<polygon points="946.7,475.5 942.7,476.8 942.7,474.2" fill="#404040" stroke="#404040" stroke-width="0.4"/>
<polygon points="950,475.5 954,474.2 954,476.8" fill="#404040" stroke="#404040" stroke-width="0.4"/>
<text x="969.4" y="471.8" font-size="15.65" fill="#444444" stroke="#fff" stroke-width="0.12" font-weight="normal" text-anchor="start" textLength="13" lengthAdjust="spacingAndGlyphs" >15</text>
<line x1="907.7" y1="494.5" x2="987.8" y2="494.5" stroke="#585858" stroke-width="1.15"/>
<polygon points="931.5,494.5 927.5,495.8 927.5,493.2" fill="#404040" stroke="#404040" stroke-width="0.4"/>
<polygon points="936.9,494.5 940.9,493.2 940.9,495.8" fill="#404040" stroke="#404040" stroke-width="0.4"/>
<polygon points="960.8,494.5 956.8,495.8 956.8,493.2" fill="#404040" stroke="#404040" stroke-width="0.4"/>
<text x="909.4" y="492.4" font-size="16.52" fill="#444444" stroke="#fff" stroke-width="0.12" font-weight="normal" text-anchor="start" textLength="14.5" lengthAdjust="spacingAndGlyphs" >20</text>
<text x="965" y="492.4" font-size="16.52" fill="#444444" stroke="#fff" stroke-width="0.12" font-weight="normal" text-anchor="start" textLength="20.7" lengthAdjust="spacingAndGlyphs" >100</text>
<line x1="1052.5" y1="385.2" x2="1052.5" y2="445.4" stroke="#585858" stroke-width="1.15"/>
<path d="M1060.5,385.5 L1060.5,402 L1062.5,405 L1062.5,438 Q1062.5,445.5 1056,445.5" fill="none" stroke="#585858" stroke-width="1.15" />
<line x1="1036.6" y1="431.5" x2="1102.7" y2="431.5" stroke="#585858" stroke-width="1.15"/>
<line x1="1036.5" y1="431.3" x2="1036.5" y2="479.4" stroke="#585858" stroke-width="1.15"/>
<line x1="1036.6" y1="439.5" x2="1102.7" y2="439.5" stroke="#585858" stroke-width="1.15"/>
<line x1="1050.5" y1="431.3" x2="1050.5" y2="479.4" stroke="#585858" stroke-width="1.15"/>
<line x1="1052.5" y1="431.3" x2="1052.5" y2="479.4" stroke="#585858" stroke-width="1.15"/>
<line x1="999.8" y1="474.5" x2="1069" y2="474.5" stroke="#585858" stroke-width="1.15"/>
<polygon points="1036.6,474.5 1040.6,473.2 1040.6,475.8" fill="#404040" stroke="#404040" stroke-width="0.4"/>
<polygon points="1050.7,474.5 1046.7,475.8 1046.7,473.2" fill="#404040" stroke="#404040" stroke-width="0.4"/>
<polygon points="1052.4,474.5 1056.4,473.2 1056.4,475.8" fill="#404040" stroke="#404040" stroke-width="0.4"/>
<text x="1002.6" y="471.8" font-size="15.65" fill="#444444" stroke="#fff" stroke-width="0.12" font-weight="normal" text-anchor="start" textLength="13.4" lengthAdjust="spacingAndGlyphs" >60</text>
<text x="1061.5" y="471.8" font-size="15.65" fill="#444444" stroke="#fff" stroke-width="0.12" font-weight="normal" text-anchor="start" textLength="5.5" lengthAdjust="spacingAndGlyphs" >7</text>
<line x1="1096.5" y1="410" x2="1096.5" y2="469.7" stroke="#585858" stroke-width="1.15"/>
<polygon points="1096.5,431.3 1095.2,427.3 1097.8,427.3" fill="#404040" stroke="#404040" stroke-width="0.4"/>
<polygon points="1096.5,439.3 1097.8,443.3 1095.2,443.3" fill="#404040" stroke="#404040" stroke-width="0.4"/>
<polygon points="1096.5,445.4 1097.8,449.4 1095.2,449.4" fill="#404040" stroke="#404040" stroke-width="0.4"/>
<text x="0" y="0" transform="translate(1094,423.1) rotate(-90)" font-size="17.39" fill="#444444" stroke="#fff" stroke-width="0.12" font-weight="normal" text-anchor="start" textLength="10.8" lengthAdjust="spacingAndGlyphs" >31</text>
<text x="0" y="0" transform="translate(1094,467.5) rotate(-90)" font-size="17.39" fill="#444444" stroke="#fff" stroke-width="0.12" font-weight="normal" text-anchor="start" textLength="11.9" lengthAdjust="spacingAndGlyphs" >27</text>
<rect x="469.5" y="524.5" width="335" height="181" rx="0" fill="none" stroke="#585858" stroke-width="1.15"/>
<text x="557.5" y="519.5" font-size="13.04" fill="#444444" stroke="#fff" stroke-width="0.12" font-weight="normal" text-anchor="start" textLength="173.5" lengthAdjust="spacingAndGlyphs" >Space for installation and service</text>
<text x="469" y="720.5" font-size="13.04" fill="#444444" stroke="#fff" stroke-width="0.12" font-weight="normal" text-anchor="start" textLength="341.4" lengthAdjust="spacingAndGlyphs" >Make a space of 4000 or more between the units when installing more than one.</text>
<line x1="490.3" y1="553.5" x2="634.4" y2="553.5" stroke="#585858" stroke-width="1.15"/>
<line x1="490.5" y1="553.5" x2="490.5" y2="634.2" stroke="#585858" stroke-width="1.15"/>
<line x1="634.5" y1="553.5" x2="634.5" y2="631" stroke="#585858" stroke-width="1.15"/>
<line x1="502.2" y1="553.5" x2="514.2" y2="541.5" stroke="#585858" stroke-width="1.15"/>
<line x1="518.5" y1="553.5" x2="530.5" y2="541.5" stroke="#585858" stroke-width="1.15"/>
<line x1="534.8" y1="553.5" x2="546.8" y2="541.5" stroke="#585858" stroke-width="1.15"/>
<line x1="551.1" y1="553.5" x2="563.1" y2="541.5" stroke="#585858" stroke-width="1.15"/>
<line x1="567.4" y1="553.5" x2="579.4" y2="541.5" stroke="#585858" stroke-width="1.15"/>
<line x1="583.7" y1="553.5" x2="595.7" y2="541.5" stroke="#585858" stroke-width="1.15"/>
<line x1="600" y1="553.5" x2="612" y2="541.5" stroke="#585858" stroke-width="1.15"/>
<line x1="616.3" y1="553.5" x2="628.3" y2="541.5" stroke="#585858" stroke-width="1.15"/>
<line x1="632.6" y1="553.5" x2="644.6" y2="541.5" stroke="#585858" stroke-width="1.15"/>
<line x1="478.5" y1="559" x2="496.7" y2="540.8" stroke="#585858" stroke-width="1.15"/>
<line x1="478" y1="543.6" x2="481.6" y2="541.2" stroke="#585858" stroke-width="1.15"/>
<line x1="478.5" y1="576.1" x2="490.3" y2="564.6" stroke="#585858" stroke-width="1.15"/>
<line x1="478.5" y1="592.7" x2="490.3" y2="581.2" stroke="#585858" stroke-width="1.15"/>
<line x1="478.5" y1="609.3" x2="490.3" y2="597.8" stroke="#585858" stroke-width="1.15"/>
<line x1="478.5" y1="626" x2="490.3" y2="614.5" stroke="#585858" stroke-width="1.15"/>
<line x1="485.6" y1="633.5" x2="490.3" y2="628.7" stroke="#585858" stroke-width="1.15"/>
<line x1="634.4" y1="565.4" x2="645.5" y2="554.9" stroke="#585858" stroke-width="1.15"/>
<line x1="634.4" y1="582" x2="645.5" y2="571.5" stroke="#585858" stroke-width="1.15"/>
<line x1="634.4" y1="598.6" x2="645.5" y2="588.1" stroke="#585858" stroke-width="1.15"/>
<line x1="634.4" y1="615.2" x2="645.5" y2="604.7" stroke="#585858" stroke-width="1.15"/>
<line x1="634.4" y1="631" x2="645.5" y2="620" stroke="#585858" stroke-width="1.15"/>
<line x1="634.4" y1="553.5" x2="645.5" y2="541.5" stroke="#585858" stroke-width="1.15"/>
<path d="M510.5,553.5 L605.5,553.5 L605.5,577 Q605.5,579.5 603,579.5 L513,579.5 Q510.5,579.5 510.5,577 Z" fill="none" stroke="#585858" stroke-width="1.15" />
<line x1="515.5" y1="553.5" x2="515.5" y2="579.6" stroke="#585858" stroke-width="1.15"/>
<line x1="601.5" y1="553.5" x2="601.5" y2="579.6" stroke="#585858" stroke-width="1.15"/>
<line x1="510.1" y1="558.5" x2="605.6" y2="558.5" stroke="#585858" stroke-width="1.15"/>
<rect x="518.5" y="560.5" width="81" height="12" rx="0" fill="none" stroke="#585858" stroke-width="1.3"/>
<rect x="515.7" y="559" width="3" height="13" fill="#999"/>
<line x1="510.5" y1="579.6" x2="510.5" y2="624.7" stroke="#585858" stroke-width="1.15"/>
<line x1="490.3" y1="619.5" x2="545.7" y2="619.5" stroke="#585858" stroke-width="1.15"/>
<polygon points="490.3,619.5 494.3,618.2 494.3,620.8" fill="#404040" stroke="#404040" stroke-width="0.4"/>
<polygon points="510.1,619.5 506.1,620.8 506.1,618.2" fill="#404040" stroke="#404040" stroke-width="0.4"/>
<text x="490.3" y="616.6" font-size="18.26" fill="#444444" stroke="#fff" stroke-width="0.12" font-weight="normal" text-anchor="start" textLength="19.8" lengthAdjust="spacingAndGlyphs" >100</text>
<text x="511.7" y="617.6" font-size="13" fill="#444444" stroke="#fff" stroke-width="0.12" font-weight="normal" text-anchor="start" textLength="33.3" lengthAdjust="spacingAndGlyphs" >or more</text>
<line x1="571.5" y1="579.6" x2="571.5" y2="665" stroke="#585858" stroke-width="1.15"/>
<polygon points="571.5,579.6 572.8,583.6 570.2,583.6" fill="#404040" stroke="#404040" stroke-width="0.4"/>
<polygon points="571.5,665 570.2,661 572.8,661" fill="#404040" stroke="#404040" stroke-width="0.4"/>
<text x="0" y="0" transform="translate(569.5,648.5) rotate(-90)" font-size="19.57" fill="#444444" stroke="#fff" stroke-width="0.12" font-weight="normal" text-anchor="start" textLength="22.5" lengthAdjust="spacingAndGlyphs" >300</text>
<text x="0" y="0" transform="translate(568.2,626) rotate(-90)" font-size="13" fill="#444444" stroke="#fff" stroke-width="0.12" font-weight="normal" text-anchor="start" textLength="35.5" lengthAdjust="spacingAndGlyphs" >or more</text>
<line x1="605.5" y1="579.6" x2="605.5" y2="632.7" stroke="#585858" stroke-width="1.15"/>
<line x1="605.9" y1="627.5" x2="634.4" y2="627.5" stroke="#585858" stroke-width="1.15"/>
<polygon points="605.9,627.5 609.9,626.2 609.9,628.8" fill="#404040" stroke="#404040" stroke-width="0.4"/>
<polygon points="634.4,627.5 630.4,628.8 630.4,626.2" fill="#404040" stroke="#404040" stroke-width="0.4"/>
<text x="610" y="645.5" font-size="15.22" fill="#444444" stroke="#fff" stroke-width="0.12" font-weight="normal" text-anchor="start" textLength="21" lengthAdjust="spacingAndGlyphs" >150</text>
<text x="631.5" y="645.5" font-size="13" fill="#444444" stroke="#fff" stroke-width="0.12" font-weight="normal" text-anchor="start" textLength="34.9" lengthAdjust="spacingAndGlyphs" >or more</text>
<line x1="507.4" y1="665.5" x2="617.5" y2="665.5" stroke="#585858" stroke-width="1.15"/>
<line x1="518" y1="677.8" x2="529.6" y2="665.3" stroke="#585858" stroke-width="1.15"/>
<line x1="534.2" y1="677.8" x2="545.8" y2="665.3" stroke="#585858" stroke-width="1.15"/>
<line x1="550.4" y1="677.8" x2="562" y2="665.3" stroke="#585858" stroke-width="1.15"/>
<line x1="566.6" y1="677.8" x2="578.2" y2="665.3" stroke="#585858" stroke-width="1.15"/>
<line x1="582.8" y1="677.8" x2="594.4" y2="665.3" stroke="#585858" stroke-width="1.15"/>
<line x1="599" y1="677.8" x2="610.6" y2="665.3" stroke="#585858" stroke-width="1.15"/>
<line x1="507.5" y1="671.8" x2="513.5" y2="665.6" stroke="#585858" stroke-width="1.15"/>
<line x1="615.3" y1="677.3" x2="617.8" y2="675.2" stroke="#585858" stroke-width="1.15"/>
<text x="540.4" y="692" font-size="12.17" fill="#444444" stroke="#fff" stroke-width="0.12" font-weight="normal" text-anchor="start" textLength="44.1" lengthAdjust="spacingAndGlyphs" >Obstacle</text>
<line x1="661.2" y1="553.5" x2="778.1" y2="553.5" stroke="#585858" stroke-width="1.15"/>
<line x1="663.7" y1="553.5" x2="677.3" y2="541.1" stroke="#585858" stroke-width="1.15"/>
<line x1="680" y1="553.5" x2="693.6" y2="541.1" stroke="#585858" stroke-width="1.15"/>
<line x1="696.3" y1="553.5" x2="709.9" y2="541.1" stroke="#585858" stroke-width="1.15"/>
<line x1="712.6" y1="553.5" x2="726.2" y2="541.1" stroke="#585858" stroke-width="1.15"/>
<line x1="728.9" y1="553.5" x2="742.5" y2="541.1" stroke="#585858" stroke-width="1.15"/>
<line x1="745.2" y1="553.5" x2="758.8" y2="541.1" stroke="#585858" stroke-width="1.15"/>
<line x1="761.5" y1="553.5" x2="775.1" y2="541.1" stroke="#585858" stroke-width="1.15"/>
<line x1="778.1" y1="553.5" x2="790.5" y2="542" stroke="#585858" stroke-width="1.15"/>
<line x1="773.5" y1="553.5" x2="773.5" y2="658.9" stroke="#585858" stroke-width="1.15"/>
<line x1="778.5" y1="553.5" x2="778.5" y2="658.9" stroke="#585858" stroke-width="1.15"/>
<line x1="778.1" y1="569.9" x2="790.5" y2="558.4" stroke="#585858" stroke-width="1.15"/>
<line x1="778.1" y1="586" x2="790.5" y2="574.5" stroke="#585858" stroke-width="1.15"/>
<line x1="778.1" y1="602.1" x2="790.5" y2="590.6" stroke="#585858" stroke-width="1.15"/>
<line x1="778.1" y1="618.2" x2="790.5" y2="606.7" stroke="#585858" stroke-width="1.15"/>
<line x1="784" y1="630" x2="790.5" y2="624" stroke="#585858" stroke-width="1.15"/>
<line x1="694.2" y1="553.5" x2="773.9" y2="553.5" stroke="#585858" stroke-width="1.15"/>
<path d="M688.5,558.5 C688.6,566 691.5,571 696.3,573.6 L724.7,579.5 L773.9,579.5" fill="none" stroke="#585858" stroke-width="1.15" />
<line x1="688.3" y1="558.5" x2="773.9" y2="558.5" stroke="#585858" stroke-width="1.15"/>
<path d="M694.2,553.5 C693.9,562 695.3,567 699.5,569.5 L725.6,574.5 L773.9,574.5" fill="none" stroke="#585858" stroke-width="1.15" />
<polygon points="661.7,598.2 674.71,601.54 673.11,598.77 681.69,593.82 675.49,583.08 666.91,588.03 665.31,585.26" fill="none" stroke="#585858" stroke-width="1"/>
<polygon points="751.3,607.7 760.6,617.3 757.6,617.3 757.6,627.2 745,627.2 745,617.3 742,617.3" fill="none" stroke="#585858" stroke-width="1"/>
<line x1="728.1" y1="653.5" x2="783.7" y2="653.5" stroke="#585858" stroke-width="1.15"/>
<polygon points="773.9,653.5 769.9,654.8 769.9,652.2" fill="#404040" stroke="#404040" stroke-width="0.4"/>
<polygon points="778.1,653.5 782.1,652.2 782.1,654.8" fill="#404040" stroke="#404040" stroke-width="0.4"/>
<text x="730.7" y="650.4" font-size="15.94" fill="#444444" stroke="#fff" stroke-width="0.12" font-weight="normal" text-anchor="start" textLength="6.8" lengthAdjust="spacingAndGlyphs" >5</text>
<text x="738.6" y="650.4" font-size="13" fill="#444444" stroke="#fff" stroke-width="0.12" font-weight="normal" text-anchor="start" textLength="32.8" lengthAdjust="spacingAndGlyphs" >or more</text>
<rect x="819.5" y="524.5" width="296" height="181" rx="0" fill="none" stroke="#585858" stroke-width="1.15"/>
<text x="869.9" y="519.5" font-size="13.04" fill="#444444" stroke="#fff" stroke-width="0.12" font-weight="normal" text-anchor="start" textLength="177.5" lengthAdjust="spacingAndGlyphs" >Position of top cutout and back cutout</text>
<text x="1052.6" y="536.4" font-size="12.17" fill="#444444" stroke="#fff" stroke-width="0.12" font-weight="normal" text-anchor="start" textLength="35.4" lengthAdjust="spacingAndGlyphs" >Hole for</text>
<text x="1052.6" y="547.6" font-size="12.17" fill="#444444" stroke="#fff" stroke-width="0.12" font-weight="normal" text-anchor="start" textLength="52.8" lengthAdjust="spacingAndGlyphs" >drain piping</text>
<line x1="1046.9" y1="550.5" x2="1108" y2="550.5" stroke="#585858" stroke-width="1.15"/>
<line x1="1046.9" y1="550.8" x2="1024.7" y2="569" stroke="#585858" stroke-width="1.15"/>
<text x="1052" y="562.5" font-size="12.32" fill="#444444" stroke="#fff" stroke-width="0.12" font-weight="normal" text-anchor="start" textLength="40.4" lengthAdjust="spacingAndGlyphs" >(for left)</text>
<text x="836" y="613.2" font-size="22.61" fill="#444444" stroke="#fff" stroke-width="0.12" font-weight="normal" text-anchor="start" textLength="9.1" lengthAdjust="spacingAndGlyphs" >F</text>
<line x1="851.6" y1="603.6" x2="934.9" y2="570.3" stroke="#585858" stroke-width="1.15"/>
<text x="1057.3" y="630.1" font-size="22.61" fill="#444444" stroke="#fff" stroke-width="0.12" font-weight="normal" text-anchor="start" textLength="13" lengthAdjust="spacingAndGlyphs" >G</text>
<line x1="1054.7" y1="615.8" x2="1016.5" y2="590" stroke="#585858" stroke-width="1.15"/>
<text x="999.5" y="664" font-size="20.72" fill="#444444" stroke="#fff" stroke-width="0.12" font-weight="normal" text-anchor="start" textLength="9.6" lengthAdjust="spacingAndGlyphs" >E</text>
<line x1="997.4" y1="643.2" x2="957" y2="621" stroke="#585858" stroke-width="1.15"/>
<text x="834.7" y="657.5" font-size="12.32" fill="#444444" stroke="#fff" stroke-width="0.12" font-weight="normal" text-anchor="start" textLength="77.3" lengthAdjust="spacingAndGlyphs" >Right side cutout</text>
<line x1="834.7" y1="663.5" x2="916.7" y2="663.5" stroke="#585858" stroke-width="1.15"/>
<line x1="916.7" y1="663.5" x2="924.5" y2="617.1" stroke="#585858" stroke-width="1.15"/>
<text x="834.7" y="685.8" font-size="12.32" fill="#444444" stroke="#fff" stroke-width="0.12" font-weight="normal" text-anchor="start" textLength="233" lengthAdjust="spacingAndGlyphs" >Piping can be connected from 3 different direction.</text>
<text x="834.7" y="700.3" font-size="12.32" fill="#444444" stroke="#fff" stroke-width="0.12" font-weight="normal" text-anchor="start" textLength="236.1" lengthAdjust="spacingAndGlyphs" >Remove the cutout using side cutter or similar tool.</text>
<line x1="942" y1="584" x2="1022.8" y2="533.5" stroke="#585858" stroke-width="1.15"/>
<line x1="942" y1="649.7" x2="1022.8" y2="598.8" stroke="#585858" stroke-width="1.15"/>
<line x1="942.5" y1="584" x2="942.5" y2="649.7" stroke="#585858" stroke-width="1.15"/>
<line x1="936.5" y1="585.5" x2="936.5" y2="648.8" stroke="#585858" stroke-width="1.15"/>
<line x1="1022.5" y1="533.5" x2="1022.5" y2="598.8" stroke="#585858" stroke-width="1.15"/>
<path d="M1027.8,530 C1028.5,545 1030.5,565 1030,578 C1029.5,590 1026,596 1023,598.5" fill="none" stroke="#585858" stroke-width="1.15" />
<path d="M979.2,556.4 Q990,575 985,595 Q983,610 987.6,621.7" fill="none" stroke="#585858" stroke-width="1.15" />
<path d="M982.5,554.4 Q993,573 988.3,593 Q986.5,608 991,619.6" fill="none" stroke="#585858" stroke-width="1.15" />
<polygon points="948.5,605 961,598 961,614 954,625 949,622" fill="none" stroke="#585858" stroke-width="1.15"/>
<polygon points="1010.4,589.2 1021.8,583.1 1021.8,591.4 1010.4,598.2" fill="none" stroke="#585858" stroke-width="1.15"/>
<line x1="1018.5" y1="563.5" x2="1018.5" y2="575" stroke="#585858" stroke-width="1.15" stroke-dasharray="2,1.2"/>
<line x1="1018.8" y1="563.5" x2="1029.3" y2="566.2" stroke="#585858" stroke-width="1.15"/>
<line x1="1018.8" y1="575" x2="1029.3" y2="576.8" stroke="#585858" stroke-width="1.15"/>
<line x1="1029.5" y1="566.2" x2="1029.5" y2="576.8" stroke="#585858" stroke-width="1.15"/>
<line x1="863.5" y1="560.8" x2="941.8" y2="582.8" stroke="#585858" stroke-width="1.15"/>
<line x1="871.5" y1="570.8" x2="939.3" y2="585.3" stroke="#585858" stroke-width="1.15"/>
<line x1="871.5" y1="582.7" x2="936.8" y2="597.1" stroke="#585858" stroke-width="1.15"/>
<line x1="869.8" y1="626.8" x2="935.9" y2="640.3" stroke="#585858" stroke-width="1.15"/>
<line x1="869.8" y1="632.7" x2="942" y2="649.7" stroke="#585858" stroke-width="1.15"/>
<path d="M875.8,565.6 C869,580 877,595 873.5,610 C871,620 869,628 869.6,632.7" fill="none" stroke="#585858" stroke-width="1.15" />
<polygon points="913,598.8 935.9,603 935.9,632.7 913,628.5" fill="none" stroke="#585858" stroke-width="0.7" stroke-dasharray="2,1.2"/>
<line x1="860" y1="565.2" x2="887.7" y2="548.75" stroke="#585858" stroke-width="1.15"/>
<line x1="844.9" y1="575.5" x2="860" y2="565.2" stroke="#585858" stroke-width="1.15"/>
<polygon points="862.2,564.4 864.7,561.75 865.72,563.47" fill="#404040" stroke="#404040" stroke-width="0.4"/>
<polygon points="887.7,548.75 885.2,551.4 884.18,549.68" fill="#404040" stroke="#404040" stroke-width="0.4"/>
<line x1="884.7" y1="547.25" x2="960.5" y2="566" stroke="#585858" stroke-width="1.15"/>
<line x1="930.5" y1="542.75" x2="1015.2" y2="563" stroke="#585858" stroke-width="1.15"/>
<polygon points="930.5,542.75 934.14,542.62 933.66,544.56" fill="#404040" stroke="#404040" stroke-width="0.4"/>
<polygon points="984.5,554.75 980.86,554.88 981.34,552.94" fill="#404040" stroke="#404040" stroke-width="0.4"/>
<polygon points="987,555.4 990.64,555.27 990.16,557.21" fill="#404040" stroke="#404040" stroke-width="0.4"/>
<line x1="935" y1="540.5" x2="892.2" y2="566.75" stroke="#585858" stroke-width="1.15"/>
<line x1="941.75" y1="578" x2="980" y2="555.5" stroke="#585858" stroke-width="1.15"/>
<line x1="892.2" y1="566.75" x2="941.75" y2="578" stroke="#585858" stroke-width="1.15"/>
<line x1="999.5" y1="528.5" x2="1027.5" y2="532.7" stroke="#585858" stroke-width="1.15"/>
<line x1="983" y1="552" x2="988" y2="550" stroke="#585858" stroke-width="1.15"/>
<text x="0" y="0" transform="translate(842,573) rotate(-36)" font-size="15.5" fill="#444444" stroke="#fff" stroke-width="0.12" font-weight="normal" text-anchor="start" textLength="15" lengthAdjust="spacingAndGlyphs" >20</text>
<text x="0" y="0" transform="translate(865.5,559) rotate(-36)" font-size="15.5" fill="#444444" stroke="#fff" stroke-width="0.12" font-weight="normal" text-anchor="start" textLength="21" lengthAdjust="spacingAndGlyphs" >120</text>
<text x="0" y="0" transform="translate(948.5,542.5) rotate(14)" font-size="15.5" fill="#444444" stroke="#fff" stroke-width="0.12" font-weight="normal" text-anchor="start" textLength="21" lengthAdjust="spacingAndGlyphs" >175</text>
<text x="0" y="0" transform="translate(1000.5,557.5) rotate(14)" font-size="15.5" fill="#444444" stroke="#fff" stroke-width="0.12" font-weight="normal" text-anchor="start" textLength="13" lengthAdjust="spacingAndGlyphs" >19</text>
</svg></body></html>
